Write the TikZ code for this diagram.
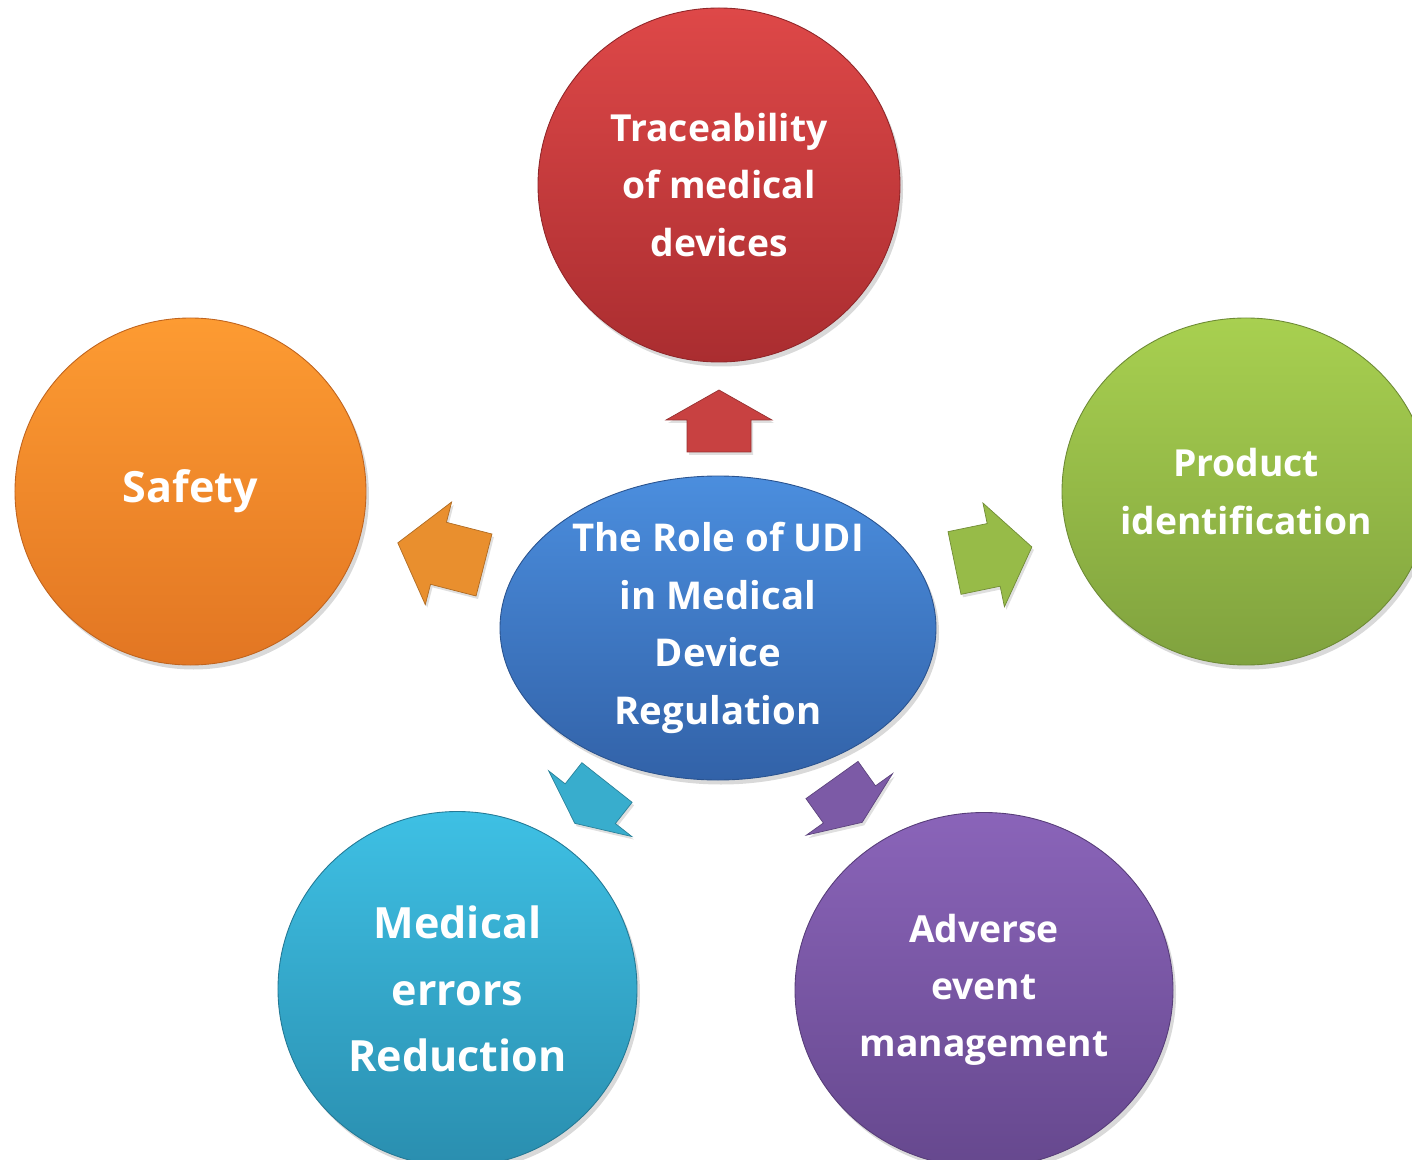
\documentclass[tikz,border=0pt]{standalone}
\usepackage{fontspec}
\setmainfont{Open Sans}
\usetikzlibrary{shapes.geometric,shadows}

\definecolor{redtop}{RGB}{222,72,72}
\definecolor{redbot}{RGB}{170,45,48}
\definecolor{orangetop}{RGB}{253,155,50}
\definecolor{orangebot}{RGB}{226,118,35}
\definecolor{greentop}{RGB}{168,208,80}
\definecolor{greenbot}{RGB}{128,162,62}
\definecolor{bluetop}{RGB}{75,142,222}
\definecolor{bluebot}{RGB}{50,98,168}
\definecolor{cyantop}{RGB}{62,192,228}
\definecolor{cyanbot}{RGB}{42,142,175}
\definecolor{purpletop}{RGB}{138,100,185}
\definecolor{purplebot}{RGB}{102,72,142}

\tikzset{
  bubble/.style n args={2}{ellipse, inner sep=0pt, align=center, text=white,
    top color=#1, bottom color=#2, draw=#2!85!black, line width=.5pt,
    drop shadow={opacity=.3, shadow xshift=.06cm, shadow yshift=-.09cm},
    font=\bfseries\fontsize{21.2}{32.5}\selectfont},
  bigtext/.style={font=\bfseries\fontsize{24.5}{37.8}\selectfont},
}

% block arrow: position, angle, length, head length, colour
\newcommand{\udiarrow}[5]{%
  \begin{scope}[shift={(#1)},rotate=#2]
    \path[fill=#5, draw=#5!75!black, line width=.4pt,
      drop shadow={opacity=.25, shadow xshift=.04cm, shadow yshift=-.06cm}]
      (0,-.64) -- ({#3-#4},-.64) -- ({#3-#4},-1.06) -- (#3,0)
      -- ({#3-#4},1.06) -- ({#3-#4},.64) -- (0,.64) -- cycle;
  \end{scope}}

\begin{document}
\begin{tikzpicture}
  \useasboundingbox (-14.36,-10.62) rectangle (13.88,12.56);
  \clip (-14.36,-10.62) rectangle (13.88,12.56);

  \node[bubble={redtop}{redbot}, minimum width=7.24cm, minimum height=7.08cm]
    (trace) at (0.02,8.86) {Traceability\\of medical\\devices};
  \node[bubble={orangetop}{orangebot}, bigtext, minimum width=7.02cm, minimum height=6.94cm]
    (safety) at (-10.55,2.73) {Safety};
  \node[bubble={greentop}{greenbot}, minimum width=7.36cm, minimum height=6.94cm]
    (product) at (10.56,2.73) {Product\\identification};
  \node[bubble={cyantop}{cyanbot}, bigtext, minimum width=7.18cm, minimum height=7.1cm]
    (errors) at (-5.21,-7.22) {Medical\\errors\\Reduction};
  \node[bubble={purpletop}{purplebot}, minimum width=7.56cm, minimum height=7.1cm]
    (adverse) at (5.32,-7.24) {Adverse\\event\\management};
  \node[bubble={bluetop}{bluebot}, font=\bfseries\fontsize{21.8}{32.8}\selectfont,
    inner xsep=-10pt, inner ysep=-6pt, minimum width=8.72cm, minimum height=6.08cm]
    (udi) at (0,0) {The Role of UDI\\in Medical\\Device\\Regulation};

  \coordinate (aT) at (0.02,3.52);
  \coordinate (aS) at (-4.68,1.26);
  \coordinate (aP) at (4.73,1.30);
  \coordinate (aE) at (-2.22,-3.09);
  \coordinate (aA) at (2.28,-3.04);

  \udiarrow{aT}{90}{1.24}{.6}{redtop!90!black}
  \udiarrow{aS}{165.6}{1.78}{.84}{orangetop!92!black}
  \udiarrow{aP}{11.7}{1.58}{.78}{greentop!90!black}
  \udiarrow{aE}{231.7}{1.04}{.5}{cyantop!90!black}
  \udiarrow{aA}{-54.5}{1.04}{.44}{purpletop!90!black}
\end{tikzpicture}
\end{document}
